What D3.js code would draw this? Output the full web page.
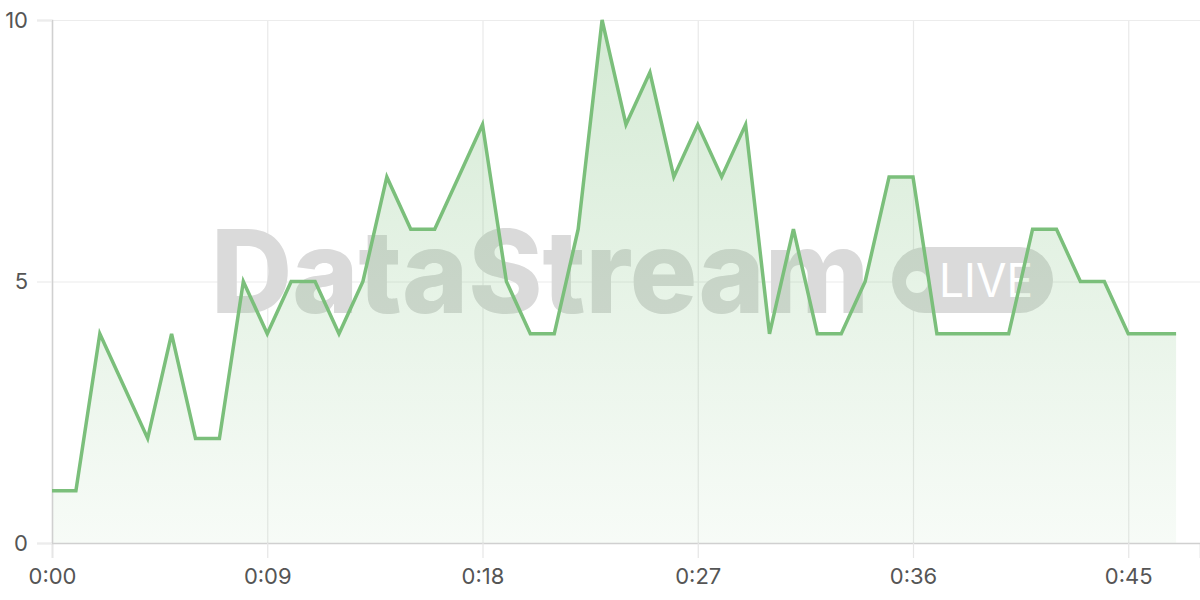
<!DOCTYPE html>
<html>
<head>
<meta charset="utf-8">
<script src="https://cdn.jsdelivr.net/npm/d3@7"></script>
<style>
  html, body { margin: 0; padding: 0; background: #fff; }
  svg { display: block; font-family: Inter, "Noto Sans", sans-serif; }
</style>
</head>
<body>
<svg id="chart"></svg>
<script>
// Data: one sample per second
const seconds = d3.range(0, 48);
const counts = [1, 1, 4, 3, 2, 4, 2, 2, 5, 4, 5, 5, 4, 5, 7, 6, 6, 7, 8, 5,
  4, 4, 6, 10, 8, 9, 7, 8, 7, 8, 4, 6, 4, 4, 5, 7, 7, 4, 4, 4,
  4, 6, 6, 5, 5, 4, 4, 4];
const xTicks = [0, 9, 18, 27, 36, 45];
const yTicks = [0, 5, 10];
const watermarkText = 'DataStream';
const badgeText = 'LIVE';

const data = seconds.map((s, i) => ({ t: s, v: counts[i] }));

// Dimensions
const width = 1200;
const height = 600;
const margin = { top: 20, right: 0, bottom: 57, left: 52 };

const svg = d3.select('#chart')
  .attr('width', width)
  .attr('height', height);

// Scales
const xScale = d3.scaleLinear()
  .domain([0, 48])
  .range([margin.left, width - margin.right]);

const yScale = d3.scaleLinear()
  .domain([0, 10])
  .range([height - margin.bottom, margin.top]);

const fmt = s => `${Math.floor(s / 60)}:${String(s % 60).padStart(2, '0')}`;

// Gradient for area fill
const defs = svg.append('defs');
const grad = defs.append('linearGradient')
  .attr('id', 'areaFill')
  .attr('x1', 0).attr('y1', 0).attr('x2', 0).attr('y2', 1);
grad.append('stop').attr('offset', '0%').attr('stop-color', '#7bbf7b').attr('stop-opacity', 0.32);
grad.append('stop').attr('offset', '100%').attr('stop-color', '#7bbf7b').attr('stop-opacity', 0.06);

// Grid lines
svg.append('g')
  .attr('class', 'x-grid')
  .attr('transform', `translate(0, ${height - margin.bottom})`)
  .call(d3.axisBottom(xScale).tickValues(xTicks)
    .tickSize(-(height - margin.top - margin.bottom)).tickFormat(''))
  .call(g => g.select('.domain').remove())
  .call(g => g.selectAll('line').attr('stroke', '#e9e9e9').attr('stroke-width', 1.2));

svg.append('g')
  .attr('class', 'y-grid')
  .attr('transform', `translate(${margin.left}, 0)`)
  .call(d3.axisLeft(yScale).tickValues(yTicks)
    .tickSize(-(width - margin.left - margin.right)).tickFormat(''))
  .call(g => g.select('.domain').remove())
  .call(g => g.selectAll('line').attr('stroke', '#ececec').attr('stroke-width', 1.2));

// Watermark
const wm = svg.append('g').attr('class', 'watermark');
wm.append('text')
  .attr('x', 211)
  .attr('y', 313)
  .attr('font-size', 115)
  .attr('font-weight', 800)
  .attr('textLength', 658)
  .attr('lengthAdjust', 'spacingAndGlyphs')
  .attr('fill', '#dadada')
  .text(watermarkText);
wm.append('rect')
  .attr('x', 892).attr('y', 247)
  .attr('width', 161).attr('height', 66)
  .attr('rx', 33)
  .attr('fill', '#dadada');
wm.append('circle')
  .attr('cx', 917).attr('cy', 282).attr('r', 11)
  .attr('fill', '#fff');
wm.append('text')
  .attr('x', 939)
  .attr('y', 297)
  .attr('font-size', 46)
  .attr('font-weight', 400)
  .attr('textLength', 94)
  .attr('lengthAdjust', 'spacingAndGlyphs')
  .attr('fill', '#fff')
  .text(badgeText);

// Area and line
const area = d3.area()
  .x(d => xScale(d.t))
  .y0(yScale(0))
  .y1(d => yScale(d.v));

const line = d3.line()
  .x(d => xScale(d.t))
  .y(d => yScale(d.v));

svg.append('path')
  .datum(data)
  .attr('d', area)
  .attr('fill', 'url(#areaFill)');

// Axes
const xAxis = svg.append('g')
  .attr('id', 'x-axis')
  .attr('transform', `translate(0, ${height - margin.bottom})`)
  .call(d3.axisBottom(xScale).tickValues(xTicks).tickSize(15).tickPadding(10).tickFormat(fmt));
xAxis.select('.domain').attr('stroke', '#d0d0d0').attr('stroke-width', 1.5);
xAxis.selectAll('line').attr('stroke', '#e6e6e6').attr('stroke-width', 1.2);
xAxis.selectAll('text').attr('fill', '#555').attr('font-size', 22).attr('font-family', 'Inter, sans-serif');

const yAxis = svg.append('g')
  .attr('id', 'y-axis')
  .attr('transform', `translate(${margin.left}, 0)`)
  .call(d3.axisLeft(yScale).tickValues(yTicks).tickSize(15).tickPadding(9));
yAxis.select('.domain').attr('stroke', '#d0d0d0').attr('stroke-width', 1.5);
yAxis.selectAll('line').attr('stroke', '#ececec').attr('stroke-width', 1.2);
yAxis.selectAll('text').attr('fill', '#555').attr('font-size', 22).attr('font-family', 'Inter, sans-serif');

svg.append('path')
  .datum(data)
  .attr('d', line)
  .attr('fill', 'none')
  .attr('stroke', '#7bbf7b')
  .attr('stroke-width', 3.5)
  .attr('stroke-linejoin', 'miter');
</script>
</body>
</html>
